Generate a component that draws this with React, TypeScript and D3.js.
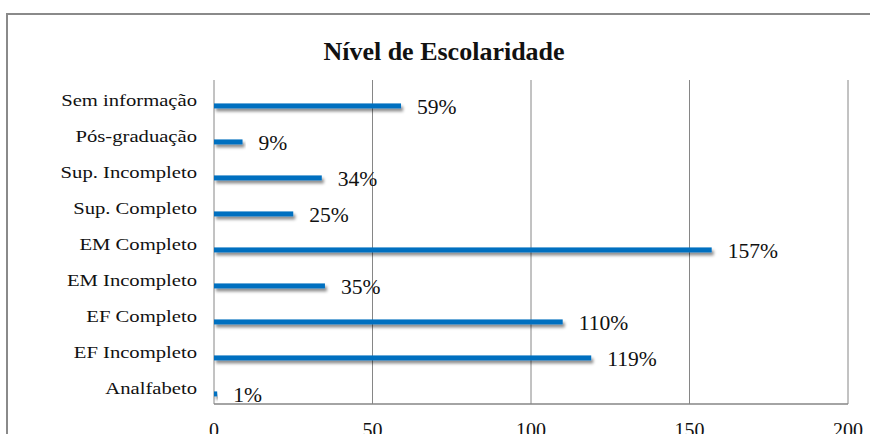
import React, { useEffect, useRef } from 'react';
import * as d3 from 'd3';

const categories = [
  'Sem informação',
  'Pós-graduação',
  'Sup. Incompleto',
  'Sup. Completo',
  'EM Completo',
  'EM Incompleto',
  'EF Completo',
  'EF Incompleto',
  'Analfabeto',
];
const values = [59, 9, 34, 25, 157, 35, 110, 119, 1];
const xTicks = [0, 50, 100, 150, 200];

export default function App() {
  const svgRef = useRef<SVGSVGElement>(null);
  const width = 870;
  const height = 434;

  useEffect(() => {
    if (!svgRef.current) return;
    const svg = d3.select(svgRef.current);
    svg.selectAll('*').remove();

    const font = '"Liberation Serif", "Times New Roman", serif';
    const plot = { left: 214, right: 848, top: 80, bottom: 404 };

    const x = d3.scaleLinear().domain([0, 200]).range([plot.left, plot.right]);
    const y = d3.scaleBand().domain(categories).range([plot.top, plot.bottom]).padding(0);
    const bw = y.bandwidth();

    const defs = svg.append('defs');
    const f = defs.append('filter').attr('id', 'shadow')
      .attr('x', '-10%').attr('y', '-100%').attr('width', '120%').attr('height', '400%');
    f.append('feDropShadow')
      .attr('dx', 2).attr('dy', 3).attr('stdDeviation', 1.4)
      .attr('flood-color', '#000').attr('flood-opacity', 0.45);

    svg.append('rect').attr('width', width).attr('height', height).attr('fill', '#fff');

    // outer frame
    svg.append('rect')
      .attr('x', 7).attr('y', 14).attr('width', 880).attr('height', 440)
      .attr('fill', 'none').attr('stroke', '#8a8a8a').attr('stroke-width', 2);

    // title
    svg.append('text')
      .attr('x', 444).attr('y', 60)
      .attr('text-anchor', 'middle')
      .attr('font-family', font).attr('font-weight', 'bold').attr('font-size', 26)
      .attr('fill', '#111')
      .text('Nível de Escolaridade');

    // gridlines
    svg.append('g').selectAll('line').data(xTicks).enter().append('line')
      .attr('x1', d => x(d)).attr('x2', d => x(d))
      .attr('y1', plot.top).attr('y2', plot.bottom)
      .attr('stroke', '#868686').attr('stroke-width', 1);
    svg.append('line')
      .attr('x1', plot.left).attr('x2', plot.right)
      .attr('y1', plot.bottom).attr('y2', plot.bottom)
      .attr('stroke', '#868686').attr('stroke-width', 1.5);

    // x tick labels
    svg.append('g').selectAll('text').data(xTicks).enter().append('text')
      .attr('x', d => x(d)).attr('y', 437)
      .attr('text-anchor', 'middle')
      .attr('font-family', font).attr('font-size', 20).attr('fill', '#111')
      .text(d => d);

    // category labels
    svg.append('g').selectAll('text').data(categories).enter().append('text')
      .attr('transform', d => `translate(197,${(y(d) as number) + 26}) scale(1.18,1)`)
      .attr('text-anchor', 'end')
      .attr('font-family', font).attr('font-size', 17.5).attr('fill', '#111')
      .text(d => d);

    // bars
    const barH = 5;
    svg.append('g').selectAll('rect').data(values).enter().append('rect')
      .attr('x', x(0))
      .attr('y', (_, i) => (y(categories[i]) as number) + bw * 0.72 - barH / 2)
      .attr('width', d => x(d) - x(0))
      .attr('height', barH)
      .attr('fill', '#0070C0')
      .attr('filter', 'url(#shadow)');

    // value labels
    svg.append('g').selectAll('text').data(values).enter().append('text')
      .attr('transform', (d, i) => `translate(${x(d) + 16},${(y(categories[i]) as number) + bw * 0.72 + 8}) scale(1.08,1)`)
      .attr('font-family', font).attr('font-size', 20).attr('fill', '#111')
      .text(d => `${d}%`);
  }, []);

  return (
    <svg
      ref={svgRef}
      width={width}
      height={height}
      style={{ position: 'absolute', left: 0, top: 0, display: 'block' }}
    />
  );
}
